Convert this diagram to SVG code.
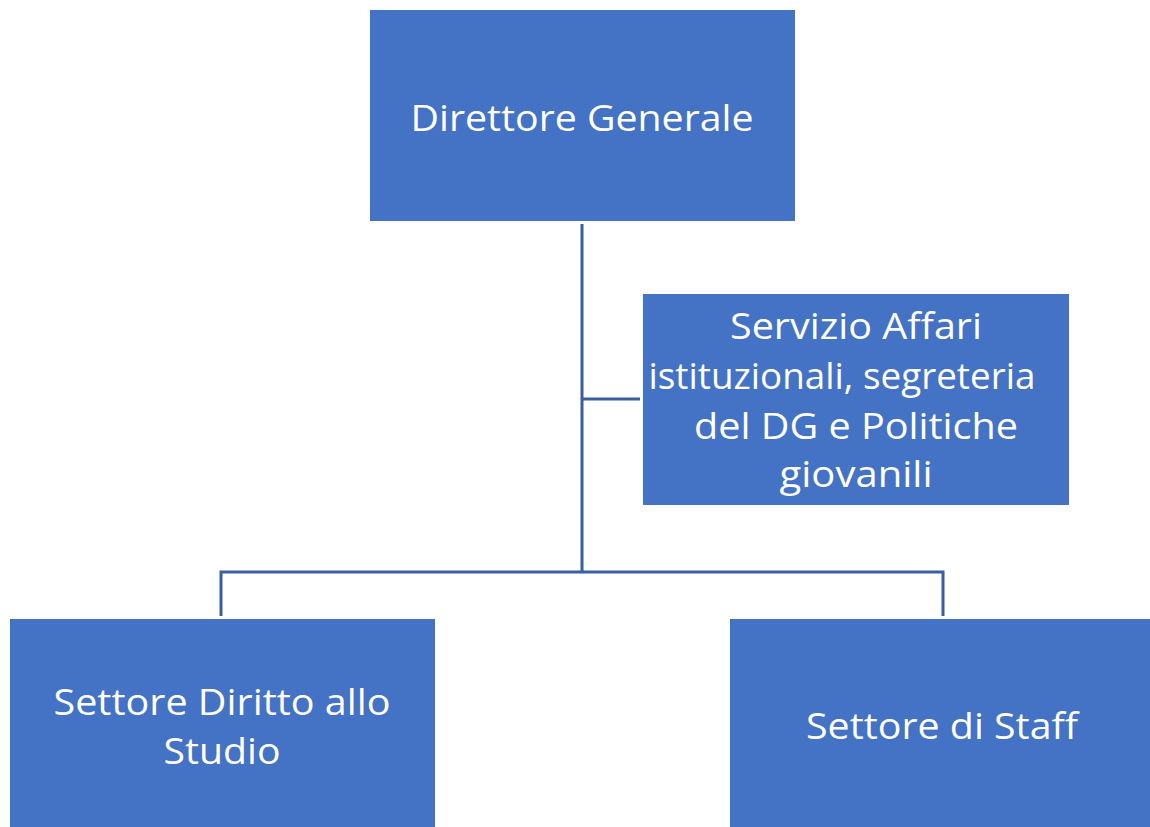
<svg xmlns="http://www.w3.org/2000/svg" width="1150" height="827" viewBox="0 0 1150 827">
<style>
.box{fill:#4472C4;}
.lbl{fill:#FFFFFF;font-family:"Open Sans","Noto Sans","Liberation Sans",sans-serif;font-size:36px;text-anchor:middle;}
.con{fill:none;stroke:#3A5E9E;stroke-width:3;}
</style>
<rect width="1150" height="827" fill="#FFFFFF"/>
<g id="connectors">
<path class="con" d="M582,224 V572"/>
<path class="con" d="M582,399 H640"/>
<path class="con" d="M221,616 V572 H943 V616"/>
</g>
<g id="node-dg">
<rect class="box" x="370" y="10" width="425" height="211"/>
<text class="lbl" x="582" y="131" textLength="343" lengthAdjust="spacingAndGlyphs">Direttore Generale</text>
</g>
<g id="node-servizio">
<rect class="box" x="643" y="294" width="426" height="211"/>
<text class="lbl" x="856" y="339" textLength="252" lengthAdjust="spacingAndGlyphs">Servizio Affari</text>
<text class="lbl" x="842" y="389" textLength="387" lengthAdjust="spacingAndGlyphs">istituzionali, segreteria</text>
<text class="lbl" x="856" y="439" textLength="324" lengthAdjust="spacingAndGlyphs">del DG e Politiche</text>
<text class="lbl" x="856" y="487" textLength="153" lengthAdjust="spacingAndGlyphs">giovanili</text>
</g>
<g id="node-diritto">
<rect class="box" x="10" y="619" width="425" height="208"/>
<text class="lbl" x="222" y="715" textLength="337" lengthAdjust="spacingAndGlyphs">Settore Diritto allo</text>
<text class="lbl" x="222" y="764" textLength="117" lengthAdjust="spacingAndGlyphs">Studio</text>
</g>
<g id="node-staff">
<rect class="box" x="730" y="619" width="420" height="208"/>
<text class="lbl" x="942" y="739" textLength="272" lengthAdjust="spacingAndGlyphs">Settore di Staff</text>
</g>
</svg>
